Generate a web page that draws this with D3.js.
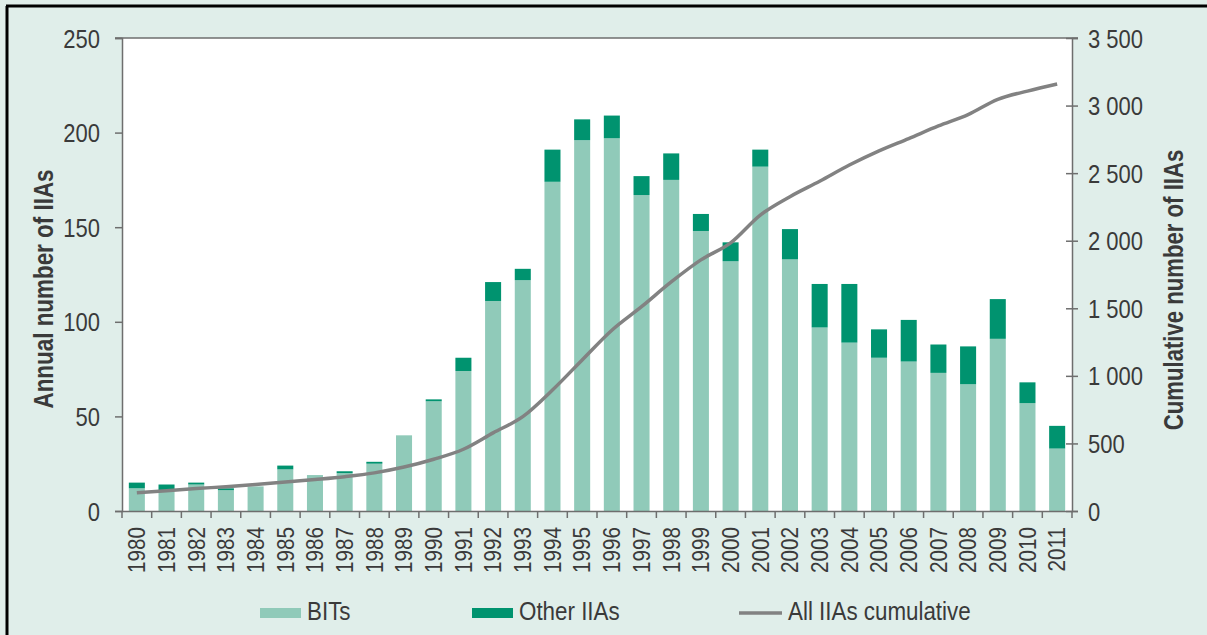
<!DOCTYPE html>
<html>
<head>
<meta charset="utf-8">
<script src="https://cdn.jsdelivr.net/npm/d3@7"></script>
<style>
  body { margin: 0; background: #e0eeea; }
  svg text { font-family: "Liberation Sans", Arial, sans-serif; fill: #3a3a3a; }
</style>
</head>
<body>
<div id="chart"></div>
<script>
// data
var years = ["1980","1981","1982","1983","1984","1985","1986","1987","1988","1989",
  "1990","1991","1992","1993","1994","1995","1996","1997","1998","1999",
  "2000","2001","2002","2003","2004","2005","2006","2007","2008","2009","2010","2011"];
var bits = [12, 11, 14, 11, 13, 22, 19, 20, 25, 40,
  58, 74, 111, 122, 174, 196, 197, 167, 175, 148,
  132, 182, 133, 97, 89, 81, 79, 73, 67, 91, 57, 33];
var otherIIAs = [3, 3, 1, 1, 0, 2, 0, 1, 1, 0,
  1, 7, 10, 6, 17, 11, 12, 10, 14, 9,
  10, 9, 16, 23, 31, 15, 22, 15, 20, 21, 11, 12];
var cumulative = [135, 150, 166, 180, 196, 214, 233, 254, 282, 325,
  383, 457, 578, 698, 895, 1118, 1338, 1512, 1695, 1858,
  1984, 2190, 2326, 2440, 2560, 2665, 2756, 2849, 2933, 3046, 3107, 3160];
var leftTicks = [0, 50, 100, 150, 200, 250];
var rightTicks = [0, 500, 1000, 1500, 2000, 2500, 3000, 3500];

var width = 1207, height = 635;
var margin = { top: 38, right: 140, bottom: 124, left: 122 };

// squeeze text to look like the condensed face of the original
function condense(sel, factor) {
  sel.each(function () {
    var len = this.getComputedTextLength();
    d3.select(this).attr("textLength", len * factor).attr("lengthAdjust", "spacingAndGlyphs");
  });
}

var svg = d3.select("#chart").append("svg")
  .attr("width", width)
  .attr("height", height);

// frame (only the top and left edges show in the picture)
svg.append("rect").attr("x", 0).attr("y", 0).attr("width", width).attr("height", height).attr("fill", "#e0eeea");
svg.append("line").attr("x1", 6).attr("x2", width).attr("y1", 6).attr("y2", 6).attr("stroke", "#000").attr("stroke-width", 3);
svg.append("line").attr("x1", 7).attr("x2", 7).attr("y1", 6).attr("y2", height).attr("stroke", "#000").attr("stroke-width", 3);

var x = d3.scaleBand().domain(years)
  .range([margin.left, width - margin.right + 5])
  .paddingInner(0.46).paddingOuter(0.23);

var yLeft = d3.scaleLinear().domain([0, 250]).range([height - margin.bottom, margin.top]);
var yRight = d3.scaleLinear().domain([0, 3500]).range([height - margin.bottom, margin.top]);

var x0 = x.range()[0], x1 = x.range()[1], yBase = yLeft(0);

// white plot area
svg.append("rect")
  .attr("x", x0).attr("y", yLeft(250))
  .attr("width", x1 - x0).attr("height", yBase - yLeft(250))
  .attr("fill", "#ffffff");

// BITs bars
svg.selectAll(".bit").data(years).enter().append("rect")
  .attr("class", "bit")
  .attr("x", function (d) { return x(d); })
  .attr("width", x.bandwidth())
  .attr("y", function (d, i) { return yLeft(bits[i]); })
  .attr("height", function (d, i) { return yBase - yLeft(bits[i]); })
  .attr("fill", "#90cab9");

// Other IIAs stacked on top
svg.selectAll(".other").data(years).enter().append("rect")
  .attr("class", "other")
  .attr("x", function (d) { return x(d); })
  .attr("width", x.bandwidth())
  .attr("y", function (d, i) { return yLeft(bits[i] + otherIIAs[i]); })
  .attr("height", function (d, i) { return yLeft(bits[i]) - yLeft(bits[i] + otherIIAs[i]); })
  .attr("fill", "#00936f");

// cumulative line
var line = d3.line()
  .x(function (d, i) { return x(years[i]) + x.bandwidth() / 2; })
  .y(function (d) { return yRight(d); })
  .curve(d3.curveMonotoneX);

svg.append("path")
  .attr("d", line(cumulative))
  .attr("fill", "none")
  .attr("stroke", "#828282")
  .attr("stroke-width", 3.5);

var axisColor = "#6e6e6e";

// top border of plot
svg.append("line")
  .attr("x1", x0 - 7).attr("x2", x1 + 6)
  .attr("y1", yLeft(250)).attr("y2", yLeft(250))
  .attr("stroke", axisColor).attr("stroke-width", 1.5);

// left axis
var leftAxis = svg.append("g")
  .attr("transform", "translate(" + x0 + ",0)")
  .call(d3.axisLeft(yLeft).tickValues(leftTicks).tickSize(7).tickPadding(15));
leftAxis.selectAll("text").style("font-size", "25px").attr("dy", "0.36em");

// right axis
var rightAxis = svg.append("g")
  .attr("transform", "translate(" + x1 + ",0)")
  .call(d3.axisRight(yRight).tickValues(rightTicks).tickSize(6).tickPadding(10)
    .tickFormat(function (d) { return d3.format(",")(d).replace(",", " "); }));
rightAxis.selectAll(".tick line").attr("x1", -6);
rightAxis.selectAll("text").style("font-size", "25px").attr("dy", "0.36em");

// bottom axis with rotated year labels
var bottomAxis = svg.append("g")
  .attr("transform", "translate(0," + yBase + ")")
  .call(d3.axisBottom(x).tickSize(0).tickPadding(0));
bottomAxis.selectAll("text")
  .attr("transform", "rotate(-90)")
  .attr("x", -16).attr("y", 0)
  .attr("dy", "0.36em")
  .attr("text-anchor", "end")
  .style("font-size", "23px");

// ticks between the categories
var step = x.step();
var boundaries = years.map(function (d) { return x(d) - step * x.paddingInner() / 2; });
boundaries.push(x1);
bottomAxis.selectAll(".sep").data(boundaries).enter().append("line")
  .attr("class", "sep")
  .attr("x1", function (d) { return d; }).attr("x2", function (d) { return d; })
  .attr("y1", 0).attr("y2", 7)
  .attr("stroke", axisColor).attr("stroke-width", 1.5);

svg.selectAll(".domain").attr("stroke", axisColor).attr("stroke-width", 1.5);
svg.selectAll(".tick line").attr("stroke", axisColor).attr("stroke-width", 1.5);
svg.selectAll(".tick text").attr("fill", "#3a3a3a").style("font-family", "\"Liberation Sans\", Arial, sans-serif");

condense(leftAxis.selectAll("text"), 0.88);
condense(rightAxis.selectAll("text"), 0.88);
condense(bottomAxis.selectAll("text"), 0.9);

// axis titles
var leftTitle = svg.append("text")
  .attr("transform", "translate(53,289) rotate(-90)")
  .attr("text-anchor", "middle")
  .style("font-size", "27px").style("font-weight", "bold").attr("fill", "#222")
  .text("Annual number of IIAs");

var rightTitle = svg.append("text")
  .attr("transform", "translate(1183,290) rotate(-90)")
  .attr("text-anchor", "middle")
  .style("font-size", "27px").style("font-weight", "bold").attr("fill", "#222")
  .text("Cumulative number of IIAs");
condense(leftTitle, 0.83);
condense(rightTitle, 0.82);

// legend
var legendY = 613;
svg.append("rect").attr("x", 260).attr("y", legendY - 5).attr("width", 41).attr("height", 10).attr("fill", "#90cab9");
svg.append("rect").attr("x", 472).attr("y", legendY - 5).attr("width", 41).attr("height", 10).attr("fill", "#00936f");
svg.append("line").attr("x1", 739).attr("x2", 782).attr("y1", legendY).attr("y2", legendY)
  .attr("stroke", "#828282").attr("stroke-width", 3.5);
var legendText = svg.append("g").style("font-size", "26px");
legendText.append("text").attr("x", 307).attr("y", 620).text("BITs");
legendText.append("text").attr("x", 519).attr("y", 620).text("Other IIAs");
legendText.append("text").attr("x", 788).attr("y", 620).text("All IIAs cumulative");
condense(legendText.selectAll("text"), 0.86);
</script>
</body>
</html>
